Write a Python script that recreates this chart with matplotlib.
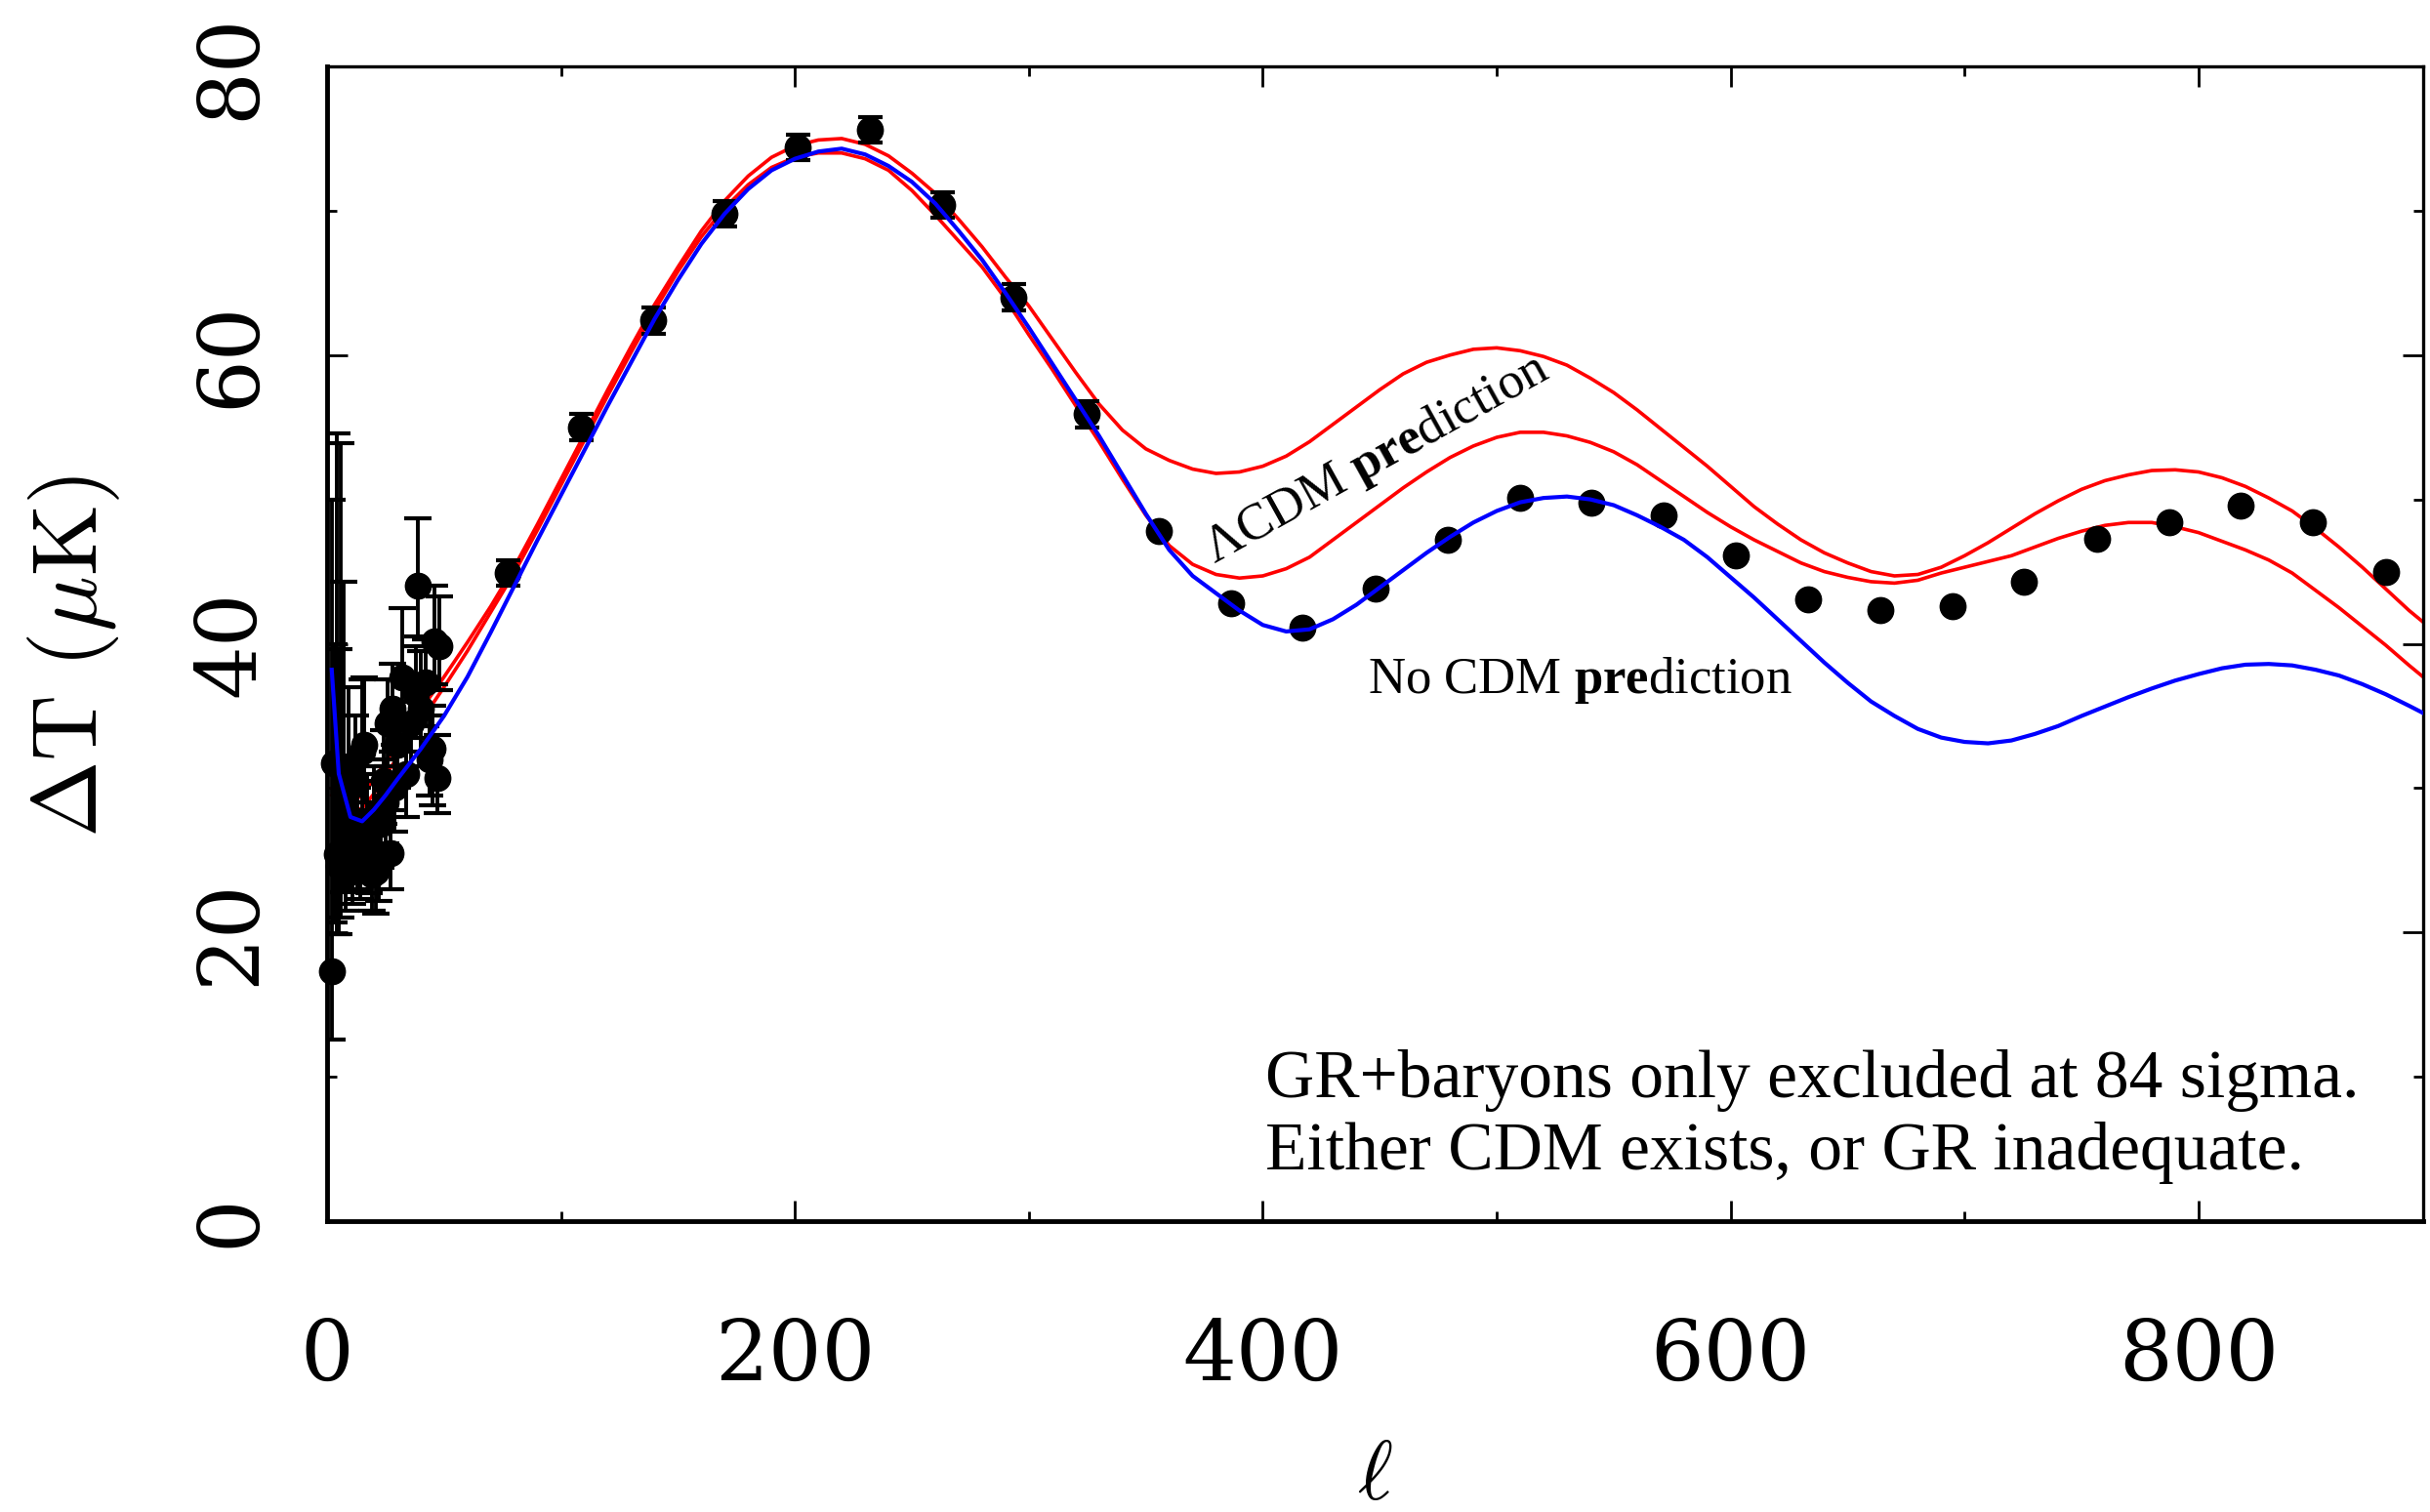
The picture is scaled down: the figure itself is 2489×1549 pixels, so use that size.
import numpy as np
import matplotlib.pyplot as plt

plt.rcParams['font.family'] = 'DejaVu Serif'
plt.rcParams['mathtext.fontset'] = 'custom'
plt.rcParams['mathtext.rm'] = 'Liberation Serif'
plt.rcParams['mathtext.it'] = 'Liberation Serif:italic'
plt.rcParams['mathtext.bf'] = 'Liberation Serif:bold'

# --- measured band powers: low multipoles (asymmetric errors) ---
ell_low = [2, 3, 4, 5, 6, 7, 8, 9, 10, 11, 12, 13, 14, 15, 16, 17, 18, 19, 20,
           21, 22, 23, 24, 25, 26, 27, 28, 29, 30, 32, 34, 36, 38, 39, 40, 42,
           44, 45, 46, 47, 48]
dT_low = [17.3, 31.7, 25.4, 24.6, 25.0, 29.8, 24.0, 31.5, 26.5, 25.0, 30.5,
          26.0, 24.3, 32.5, 33.0, 27.0, 25.5, 24.0, 28.0, 24.2, 25.0, 27.5,
          30.5, 29.0, 34.5, 25.5, 35.5, 30.0, 33.0, 37.7, 31.0, 34.5, 36.5,
          44.0, 35.5, 37.3, 32.0, 32.7, 40.2, 30.7, 39.8]
err_low_minus = [4.7, 11.0, 5.5, 4.7, 4.0, 7.0, 2.5, 5.0, 3.5, 3.0, 4.0, 3.0,
                 2.0, 4.0, 4.0, 3.0, 2.8, 2.5, 3.0, 2.9, 2.8, 3.0, 3.0, 2.8,
                 3.0, 2.5, 3.0, 3.0, 3.0, 3.0, 3.0, 3.0, 3.0, 3.5, 3.0, 3.0,
                 2.5, 3.9, 3.0, 2.4, 3.0]
err_low_plus = [32.7, 8.3, 29.2, 15.0, 28.9, 14.5, 6.5, 5.5, 5.0, 4.5, 4.5,
                4.0, 4.0, 5.0, 4.7, 4.0, 3.5, 3.5, 3.5, 3.0, 3.0, 3.0, 3.5,
                3.0, 3.0, 3.0, 3.1, 3.0, 3.0, 4.8, 3.0, 3.0, 3.3, 4.7, 4.0,
                3.0, 3.0, 3.0, 3.8, 3.0, 3.5]

# --- binned band powers at higher multipoles ---
ell_high = [77, 108.5, 139.5, 170, 201, 232, 263, 293.5, 324.5, 355.5, 386.5,
            417, 448, 479, 510, 540.5, 571.5, 602, 633, 664, 695, 725.5,
            756.5, 787.5, 818, 849, 880]
dT_high = [44.9, 55.0, 62.4, 69.8, 74.4, 75.6, 70.4, 64.0, 55.9, 47.8, 42.8,
           41.1, 43.8, 47.2, 50.1, 49.8, 48.9, 46.1, 43.1, 42.3, 42.6, 44.3,
           47.3, 48.4, 49.6, 48.4, 45.0]
err_high = [0.9, 0.9, 0.9, 0.9, 0.9, 0.9, 0.9, 0.9, 0.9, 0, 0, 0, 0, 0, 0, 0,
            0, 0, 0, 0, 0, 0, 0, 0, 0, 0, 0]

# --- model spectra sampled in ell ---
ell_model = [2, 5, 10, 15, 20, 25, 30] + list(range(40, 900, 10)) + [896]
lcdm_upper = [30.0, 29.2, 29.0, 29.5, 30.6, 31.8, 33.0,
              35.4, 37.7, 40.1, 42.6, 45.3, 48.3, 51.4, 54.5, 57.6, 60.6,
              63.5, 66.1, 68.6, 70.7, 72.4, 73.7, 74.5, 74.9, 75.0, 74.6,
              73.8, 72.6, 71.2, 69.4, 67.5, 65.4, 63.4, 61.1, 58.8, 56.6,
              54.8, 53.5, 52.7, 52.1, 51.8, 51.9, 52.3, 53.0, 54.0, 55.2,
              56.4, 57.6, 58.7, 59.5, 60.0, 60.4, 60.5, 60.3, 59.9, 59.3,
              58.4, 57.4, 56.2, 54.9, 53.6, 52.3, 50.9, 49.5, 48.3, 47.2,
              46.3, 45.6, 45.0, 44.7, 44.8, 45.3, 46.1, 47.0, 48.0, 49.0,
              49.9, 50.7, 51.3, 51.7, 52.0, 52.05, 51.9, 51.5, 50.9, 50.1,
              49.2, 48.0, 46.7, 45.3, 43.8, 42.3, 41.5]
lcdm_lower = [29.5, 28.9, 28.3, 28.6, 29.6, 30.9, 32.1,
              34.6, 37.0, 39.5, 42.2, 44.9, 47.9, 51.0, 54.1, 57.2, 60.2,
              63.1, 65.8, 68.2, 70.2, 71.8, 73.0, 73.7, 74.0, 74.0, 73.6,
              72.8, 71.4, 69.7, 67.9, 66.1, 63.9, 61.4, 59.0, 56.5, 54.0,
              51.4, 48.9, 46.8, 45.5, 44.8, 44.55, 44.7, 45.2, 46.0, 47.2,
              48.4, 49.6, 50.8, 51.9, 52.9, 53.7, 54.3, 54.65, 54.65, 54.4,
              53.95, 53.3, 52.4, 51.3, 50.2, 49.1, 48.1, 47.2, 46.4, 45.6,
              45.0, 44.6, 44.3, 44.2, 44.4, 44.9, 45.3, 45.7, 46.1, 46.7,
              47.3, 47.8, 48.2, 48.4, 48.4, 48.1, 47.7, 47.1, 46.5, 45.8,
              44.9, 43.7, 42.5, 41.2, 39.9, 38.5, 37.7]
no_cdm = [38.2, 31.0, 28.0, 27.7, 28.5, 29.5, 30.6,
          32.7, 35.0, 37.7, 40.8, 44.0, 47.2, 50.3, 53.4, 56.5, 59.5,
          62.5, 65.2, 67.7, 69.8, 71.5, 72.8, 73.6, 74.1, 74.3, 73.9,
          73.1, 72.0, 70.5, 68.6, 66.6, 64.3, 61.9, 59.4, 56.9, 54.4,
          51.7, 49.0, 46.5, 44.7, 43.5, 42.3, 41.3, 40.85, 41.0, 41.7,
          42.7, 43.9, 45.1, 46.3, 47.4, 48.4, 49.2, 49.8, 50.1, 50.2,
          50.0, 49.6, 48.9, 48.1, 47.2, 46.0, 44.6, 43.2, 41.7, 40.2,
          38.7, 37.3, 36.0, 35.0, 34.1, 33.5, 33.2, 33.1, 33.3, 33.75,
          34.3, 35.0, 35.65, 36.3, 36.9, 37.45, 37.9, 38.3, 38.55, 38.6,
          38.5, 38.2, 37.8, 37.2, 36.5, 35.7, 35.2]

fig = plt.figure(figsize=(24.89, 15.49), dpi=100)
ax = fig.add_axes([335 / 2489, 298 / 1549, 2147 / 2489, 1183 / 1549])

# red LCDM band goes underneath the data points
ax.plot(ell_model, lcdm_upper, color='#ff0000', lw=2.6, zorder=2)
ax.plot(ell_model, lcdm_lower, color='#ff0000', lw=2.6, zorder=2)

ax.errorbar(ell_low, dT_low, yerr=[err_low_minus, err_low_plus], fmt='none',
            ecolor='k', elinewidth=2.8, capsize=10, capthick=3, zorder=3)
ax.plot(ell_low, dT_low, 'o', color='k', ms=19, clip_on=False, zorder=3)
ax.errorbar(ell_high, dT_high, yerr=err_high, fmt='none', ecolor='k',
            elinewidth=2.8, capsize=9, capthick=3, zorder=3)
ax.plot(ell_high, dT_high, 'o', color='k', ms=19, zorder=3)

ax.plot(ell_model, no_cdm, color='#0000ff', lw=3.0, zorder=4)

ax.set_xlim(0, 896)
ax.set_ylim(0, 80)
ax.set_xticks([0, 200, 400, 600, 800])
ax.set_xticks([100, 300, 500, 700], minor=True)
ax.set_yticks([0, 20, 40, 60, 80])
ax.set_yticks([10, 30, 50, 70], minor=True)

ax.tick_params(which='both', direction='in', top=True, right=True, width=2)
ax.tick_params(which='major', length=15)
ax.tick_params(which='minor', length=7.5)
ax.tick_params(axis='x', labelsize=62, pad=70)
ax.tick_params(axis='y', labelsize=62, pad=41, labelrotation=90)
for lab in ax.get_yticklabels():
    lab.set_va('center')

for side in ['left', 'bottom']:
    ax.spines[side].set_linewidth(3.5)
for side in ['top', 'right']:
    ax.spines[side].set_linewidth(2.4)

ax.set_ylabel(r'$\Delta\mathrm{T}\ (\mu\mathrm{K})$', fontsize=68,
              math_fontfamily='cm')
ax.yaxis.set_label_coords(-0.098, 0.489)
ax.set_xlabel(r'$\ell$', fontsize=62, math_fontfamily='cm', va='top')
ax.xaxis.set_label_coords(0.5, -0.1855)

ax.text(379.3, 45.56, r'ΛCDM $\mathbf{pre}$diction', fontsize=38,
        family='Liberation Serif', rotation=29, rotation_mode='anchor',
        ha='left', va='baseline')
ax.text(444.8, 36.6, r'No CDM $\mathbf{pre}$diction', fontsize=38,
        family='Liberation Serif', ha='left', va='baseline')
ax.text(401, 8.58, 'GR+baryons only excluded at 84 sigma.', fontsize=50,
        family='Liberation Serif', ha='left', va='baseline')
ax.text(401, 3.58, 'Either CDM exists, or GR inadequate.', fontsize=50,
        family='Liberation Serif', ha='left', va='baseline')

fig.savefig('out.png', dpi=100)
